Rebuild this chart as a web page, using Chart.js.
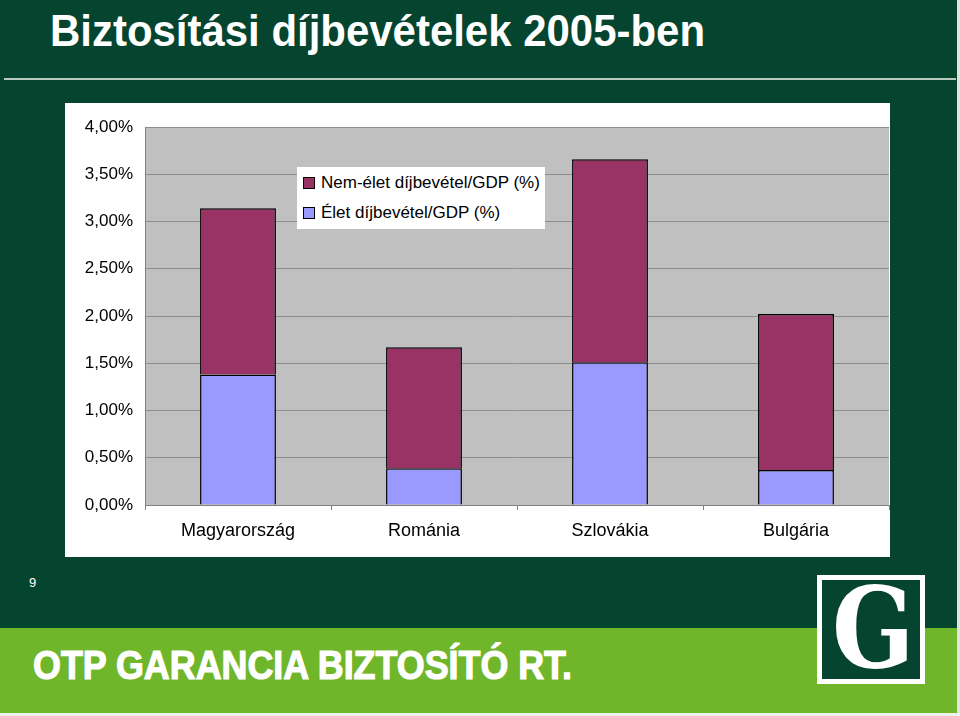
<!DOCTYPE html>
<html>
<head>
<meta charset="utf-8">
<script src="https://cdn.jsdelivr.net/npm/chart.js@4"></script>
<style>
  html, body { margin: 0; padding: 0; }
  body {
    width: 960px; height: 716px; position: relative; overflow: hidden;
    background: #05442f; font-family: 'Liberation Sans', Arial, sans-serif;
  }
  .fit { position: absolute; white-space: nowrap; color: #fff; font-weight: bold; transform-origin: 0 0; }
  #title { left: 50px; top: 6px; font-size: 44px; }
  #rule { position: absolute; left: 4px; right: 4px; top: 78px; height: 2px; background: #b9cbbf; }
  #panel { position: absolute; left: 65px; top: 103px; width: 825px; height: 454px; background: #fff; }
  #legend {
    position: absolute; left: 297px; top: 167px; width: 248px; height: 62px;
    background: #fff; font-size: 17px; color: #000;
  }
  #legend div { position: absolute; left: 6px; height: 20px; line-height: 20px; white-space: nowrap; }
  #legend span.box {
    display: inline-block; width: 10px; height: 10px; border: 1px solid #000;
    margin-right: 6px; vertical-align: -1px;
  }
  #page { position: absolute; left: 29px; top: 575px; color: #fff; font-size: 13px; }
  #band { position: absolute; left: 0; right: 0; top: 628px; height: 85px; background: #6fb62a; }
  #brand { left: 33px; top: 643px; font-size: 40px; -webkit-text-stroke: 1.2px #fff; }
  #logo {
    position: absolute; left: 817px; top: 575px; width: 98px; height: 99px;
    border: 5px solid #fff; background: #05442f; overflow: hidden;
  }
  #logo span {
    position: absolute; left: 10px; top: -14px; color: #fff; font-weight: bold;
    font-family: 'DejaVu Serif', 'Liberation Serif', serif; font-size: 112px; line-height: 124px;
    transform: scaleX(0.86); transform-origin: 0 0;
  }
  #edge { position: absolute; right: 0; top: 0; width: 3px; height: 716px; background: #dfe6df; }
  #foot { position: absolute; left: 0; right: 0; bottom: 0; height: 3px; background: #eef2ee; }
</style>
</head>
<body>
<div id="title" class="fit" data-w="655">Biztosítási díjbevételek 2005-ben</div>
<div id="rule"></div>
<div id="panel"><canvas id="chart" width="825" height="454"></canvas></div>
<div id="legend"></div>
<div id="page">9</div>
<div id="band"></div>
<div id="brand" class="fit" data-w="539">OTP GARANCIA BIZTOSÍTÓ RT.</div>
<div id="logo"><span>G</span></div>
<div id="edge"></div>
<div id="foot"></div>

<script>
// data (percent of GDP)
const countries = ['Magyarország', 'Románia', 'Szlovákia', 'Bulgária'];
const lifePremium = [1.38, 0.39, 1.51, 0.37];
const nonLifePremium = [1.76, 1.28, 2.15, 1.65];
const yTicks = [0, 0.5, 1, 1.5, 2, 2.5, 3, 3.5, 4];

const lifeLabel = 'Élet díjbevétel/GDP (%)';
const nonLifeLabel = 'Nem-élet díjbevétel/GDP (%)';
const lifeColor = '#9999ff';
const nonLifeColor = '#993366';

// squeeze the headline texts to their width on the slide
document.querySelectorAll('.fit').forEach(el => {
  const target = parseFloat(el.dataset.w);
  const w = el.getBoundingClientRect().width;
  el.style.transform = 'scaleX(' + (target / w) + ')';
});

// grey plot background like the Excel chart
const plotBg = {
  id: 'plotBg',
  beforeDraw(chart) {
    const { ctx, chartArea: a } = chart;
    ctx.save();
    ctx.fillStyle = '#c0c0c0';
    ctx.fillRect(a.left, a.top, a.right - a.left, a.bottom - a.top);
    ctx.restore();
  }
};

const fmt = v => v.toFixed(2).replace('.', ',') + '%';

const chart = new Chart(document.getElementById('chart'), {
  type: 'bar',
  data: {
    labels: countries,
    datasets: [
      { label: lifeLabel, data: lifePremium, backgroundColor: lifeColor, borderColor: '#000', borderWidth: 1.5 },
      { label: nonLifeLabel, data: nonLifePremium, backgroundColor: nonLifeColor, borderColor: '#000', borderWidth: 1.5 }
    ]
  },
  options: {
    responsive: false,
    animation: false,
    layout: { padding: { top: 24, right: 1, left: 0, bottom: 0 } },
    datasets: { bar: { barPercentage: 1, categoryPercentage: 0.408 } },
    plugins: { legend: { display: false }, tooltip: { enabled: false } },
    scales: {
      x: {
        stacked: true,
        afterFit: s => { s.height = 52; },
        grid: { offset: true, drawOnChartArea: false, tickLength: 5, color: '#808080' },
        border: { display: true, color: '#808080', width: 1 },
        ticks: { color: '#000', padding: 10, font: { family: "'Liberation Sans', Arial", size: 18 } }
      },
      y: {
        stacked: true,
        min: 0, max: 4,
        afterFit: s => { s.width = 80; },
        afterBuildTicks: s => { s.ticks = yTicks.map(v => ({ value: v })); },
        grid: { color: '#8e8e8e', drawTicks: false },
        border: { display: true, color: '#808080', width: 1 },
        ticks: {
          color: '#000', padding: 12,
          font: { family: "'Liberation Sans', Arial", size: 17 },
          callback: v => fmt(v)
        }
      }
    }
  },
  plugins: [plotBg]
});

// legend box inside the plot, non-life listed first as on the slide
const legend = document.getElementById('legend');
chart.data.datasets.slice().reverse().forEach((ds, i) => {
  const row = document.createElement('div');
  row.style.top = (6 + i * 30) + 'px';
  row.innerHTML = '<span class="box" style="background:' + ds.backgroundColor + '"></span>' + ds.label;
  legend.appendChild(row);
});
</script>
</body>
</html>
